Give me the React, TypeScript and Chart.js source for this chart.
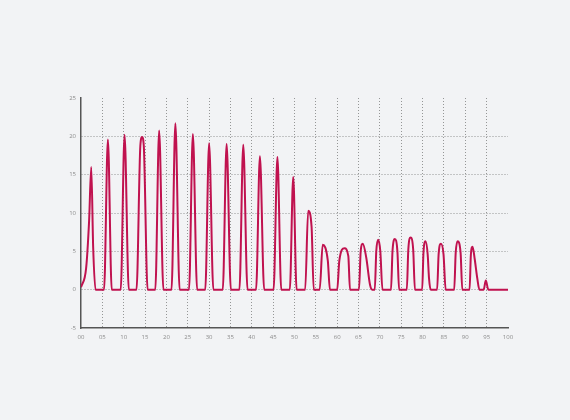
import React, { useEffect, useRef } from 'react';
import Chart from 'chart.js/auto';

// sample positions (x) and signal values (y)
const timeValues = [
  0, 1.2, 1.9, 2.4, 2.85, 3.4,
  5.4, 6.3, 7.2,
  9.3, 10.2, 11.2,
  13.0, 13.9, 14.3, 14.7, 15.6,
  17.4, 18.3, 19.3,
  21.2, 22.1, 23.1,
  25.3, 26.2, 27.2,
  29.1, 30.0, 31.0,
  33.2, 34.1, 35.1,
  37.1, 38.0, 39.0,
  41.0, 41.9, 42.9,
  45.1, 46.0, 46.9,
  48.9, 49.7, 50.5,
  52.5, 53.2, 54.0, 54.5,
  55.9, 56.6, 57.8, 58.3,
  60.0, 60.5, 61.7, 62.6, 63.0,
  65.1, 65.5, 66.0, 66.8, 67.7, 68.2,
  68.8, 69.15, 69.6, 70.1, 70.6,
  72.6, 72.95, 73.5, 74.1, 74.5,
  76.3, 76.65, 77.2, 77.8, 78.2,
  79.9, 80.2, 80.7, 81.2, 81.5, 81.9,
  83.4, 83.75, 84.3, 84.9, 85.4,
  87.4, 87.75, 88.2, 88.9, 89.3,
  91.0, 91.3, 91.7, 92.2, 92.8, 93.3,
  94.3, 94.8, 95.4,
  100,
];

const signalValues = [
  0.3, 2.8, 9, 16, 5.5, 0,
  0, 19.6, 0,
  0, 20.2, 0,
  0, 18.8, 19.9, 18.8, 0,
  0, 20.75, 0,
  0, 21.7, 0,
  0, 20.3, 0,
  0, 19.1, 0,
  0, 19.0, 0,
  0, 18.9, 0,
  0, 17.4, 0,
  0, 17.3, 0,
  0, 14.7, 0,
  0, 10.3, 8.2, 0,
  0, 5.85, 3.8, 0,
  0, 3.8, 5.4, 4.4, 0,
  0, 5.0, 6.0, 4.2, 0.6, 0,
  0, 5.0, 6.5, 5.0, 0,
  0, 5.0, 6.6, 5.0, 0,
  0, 5.2, 6.8, 5.2, 0,
  0, 4.8, 6.3, 4.5, 1.5, 0,
  0, 4.6, 6.0, 4.6, 0,
  0, 4.8, 6.3, 4.8, 0,
  0, 4.5, 5.6, 4.0, 1.5, 0,
  0, 1.2, 0,
  0,
];

const xTickValues = [0, 5, 10, 15, 20, 25, 30, 35, 40, 45, 50, 55, 60, 65, 70, 75, 80, 85, 90, 95, 100];
const yTickValues = [-5, 0, 5, 10, 15, 20, 25];

const LINE_COLOR = '#c0124f';
const GRID_COLOR = 'rgba(110,110,110,0.7)';
const AXIS_COLOR = '#555';

const App: React.FC = () => {
  const canvasRef = useRef<HTMLCanvasElement | null>(null);

  useEffect(() => {
    const ctx = canvasRef.current?.getContext('2d');
    if (!ctx) return;

    const points = timeValues.map((x, i) => ({ x, y: signalValues[i] }));
    const tickFont = { family: '"Open Sans", sans-serif', size: 6 };

    const chart = new Chart(ctx, {
      type: 'line',
      data: {
        datasets: [
          {
            data: points,
            borderColor: LINE_COLOR,
            borderWidth: 2,
            pointRadius: 0,
            fill: false,
            cubicInterpolationMode: 'monotone',
          },
        ],
      },
      options: {
        animation: false,
        responsive: true,
        maintainAspectRatio: false,
        layout: { padding: { left: 61, right: 62, top: 98, bottom: 72 } },
        plugins: { legend: { display: false }, tooltip: { enabled: false } },
        scales: {
          x: {
            type: 'linear',
            min: 0,
            max: 100,
            afterBuildTicks: (scale: any) => {
              scale.ticks = xTickValues.map(v => ({ value: v }));
            },
            afterFit: (scale: any) => {
              scale.height = 20;
            },
            ticks: {
              color: '#8c8c8c',
              font: tickFont,
              padding: 6,
              maxRotation: 0,
              autoSkip: false,
              callback: (v: any) => (Number(v) < 10 ? '0' + v : String(v)),
            },
            grid: {
              drawTicks: false,
              lineWidth: 1,
              color: (c: any) => (c.tick && (c.tick.value === 0 || c.tick.value === 100) ? 'rgba(0,0,0,0)' : GRID_COLOR),
            },
            border: { display: true, color: AXIS_COLOR, width: 1.5, dash: [1, 2] },
          },
          y: {
            min: -5,
            max: 25,
            afterBuildTicks: (scale: any) => {
              scale.ticks = yTickValues.map(v => ({ value: v }));
            },
            afterFit: (scale: any) => {
              scale.width = 20;
            },
            ticks: {
              color: '#8c8c8c',
              font: tickFont,
              padding: 5,
              callback: (v: any) => String(v),
            },
            grid: {
              drawTicks: false,
              lineWidth: 1,
              color: (c: any) => (c.tick && (c.tick.value === -5 || c.tick.value === 25) ? 'rgba(0,0,0,0)' : GRID_COLOR),
            },
            border: { display: true, color: AXIS_COLOR, width: 1.5, dash: [1, 2] },
          },
        },
      },
    });

    return () => {
      chart.destroy();
    };
  }, []);

  return (
    <div style={{ position: 'fixed', left: 0, top: 0, width: 570, height: 420, background: '#f2f3f5' }}>
      <canvas ref={canvasRef} />
    </div>
  );
};

export default App;
